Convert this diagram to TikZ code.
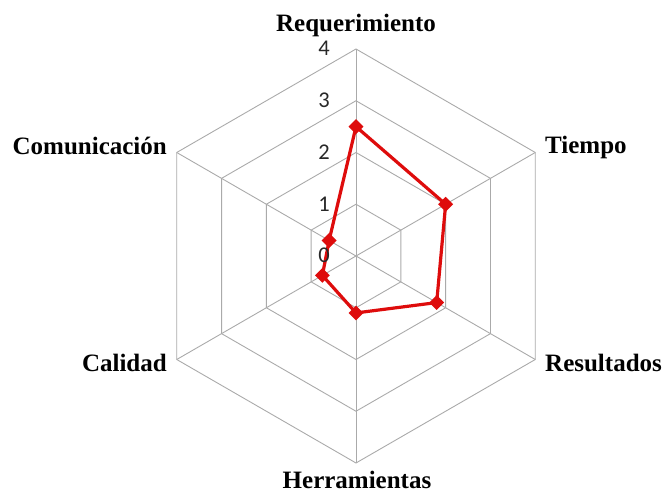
\documentclass[tikz,border=0pt]{standalone}
\usepackage{fontspec}
\setmainfont{Liberation Serif}
\newfontfamily\numfont{Carlito}
\usetikzlibrary{shapes.geometric}
\definecolor{gridgray}{RGB}{170,170,170}
\definecolor{datared}{RGB}{222,12,12}
\definecolor{numgray}{RGB}{40,40,40}
\begin{document}
\begin{tikzpicture}[x=1pt,y=1pt,
  gridline/.style={draw=gridgray, line width=0.9pt},
  dataline/.style={draw=datared, line width=3.2pt, line join=round},
  marker/.style={diamond, fill=datared, inner sep=0pt, minimum size=15pt},
  axlabel/.style={font=\bfseries\fontsize{25}{25}\selectfont, inner sep=0pt},
  numlabel/.style={font=\numfont\fontsize{22.5}{22.5}\selectfont, inner sep=0pt, anchor=base east, text=numgray}]
\useasboundingbox (0,0) rectangle (664,495);
\coordinate (O) at (356,239);
\begin{scope}[shift={(O)}]
  \foreach \r in {1,2,3,4}{
    \draw[gridline] (90:\r*51.75) -- (30:\r*51.75) -- (-30:\r*51.75) -- (-90:\r*51.75) -- (-150:\r*51.75) -- (150:\r*51.75) -- cycle;
  }
  \foreach \a in {90,30,-30,-90,-150,150}{
    \draw[gridline] (0,0) -- (\a:207);
  }
  \foreach \n/\a/\v in {1/90/2.5,2/30/2.0,3/-30/1.8,4/-90/1.1,5/210/0.75,6/150/0.6}{
    \coordinate (p\n) at (\a:\v*51.75);
  }
\end{scope}
\draw[dataline] (p1) -- (p2) -- (p3) -- (p4) -- (p5) -- (p6) -- cycle;
\foreach \n in {1,...,6}{
  \node[marker] (m\n) at (p\n) {};
}
\node[numlabel] (n0) at (330,232) {0};
\node[numlabel] (n1) at (330,283.75) {1};
\node[numlabel] (n2) at (330,335.5) {2};
\node[numlabel] (n3) at (330,387.25) {3};
\node[numlabel] (n4) at (330,439) {4};
\node[axlabel, anchor=base] (lReq) at (356,463) {Requerimiento};
\node[axlabel, anchor=base west] (lTie) at (545,341) {Tiempo};
\node[axlabel, anchor=base west] (lRes) at (545,123) {Resultados};
\node[axlabel, anchor=base] (lHer) at (357,6) {Herramientas};
\node[axlabel, anchor=base east] (lCal) at (167,123) {Calidad};
\node[axlabel, anchor=base east] (lCom) at (167,340) {Comunicación};
\end{tikzpicture}
\end{document}
